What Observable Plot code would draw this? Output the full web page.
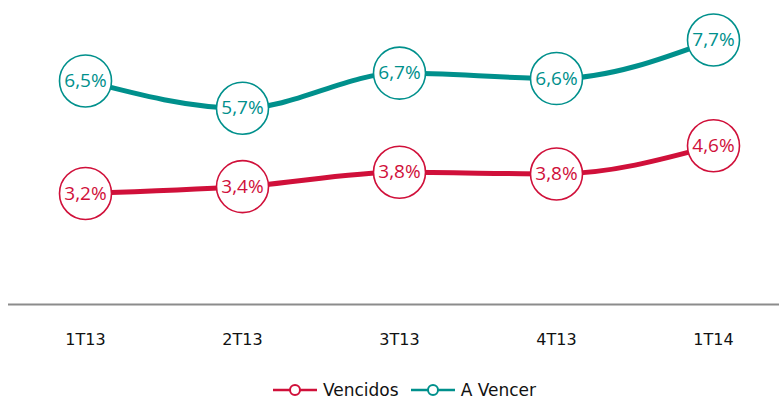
<!DOCTYPE html>
<html><head><meta charset="utf-8">
<script src="https://cdn.jsdelivr.net/npm/d3@7"></script>
<script src="https://cdn.jsdelivr.net/npm/@observablehq/plot@0.6"></script>
<style>
body{margin:0;background:#fff;}
#chart{width:779px;}
.legend{display:flex;justify-content:center;align-items:center;gap:12px;font-family:"DejaVu Sans",sans-serif;font-size:17px;color:#111;margin-top:20px;margin-left:30px;}
.item{display:flex;align-items:center;gap:6px;}
</style></head>
<body><div id="chart"></div>
<script>
const periods = ["1T13","2T13","3T13","4T13","1T14"];
const vencidos = [3.2, 3.4, 3.82, 3.77, 4.6];
const aVencer = [6.5, 5.7, 6.73, 6.57, 7.7];
const seriesNames = ["Vencidos","A Vencer"];
const colors = {"Vencidos":"#D0103A","A Vencer":"#00908C"};

const data = [];
periods.forEach((p,i)=>{
  data.push({period:p, series:"Vencidos", value:vencidos[i]});
  data.push({period:p, series:"A Vencer", value:aVencer[i]});
});
const fmt = v => v.toFixed(1).replace(".", ",") + "%";

const chart = Plot.plot({
  width: 779,
  height: 360,
  marginLeft: 8,
  marginRight: 0,
  marginTop: 0,
  marginBottom: 58,
  x: {type:"point", domain: periods, padding: 0.45, align: 0.54, label: null},
  y: {domain: [0, 8.86], axis: null},
  style: {fontFamily: "DejaVu Sans, sans-serif", fontSize: "16px", color: "#111"},
  marks: [
    Plot.ruleY([0], {stroke:"#8c8c8c", strokeWidth: 2, dy: 2}),
    Plot.axisX({tickSize: 0, tickPadding: 31, fontSize: 16, label: null}),
    Plot.line(data, {x:"period", y:"value", z:"series", stroke: d => colors[d.series], strokeWidth: 5, curve: "monotone-x"}),
    Plot.dot(data, {x:"period", y:"value", r: 26, fill:"white", stroke: d => colors[d.series], strokeWidth: 1.6}),
    Plot.text(data, {x:"period", y:"value", text: d => fmt(d.value), fill: d => colors[d.series], fontSize: 19, fontFamily: "Open Sans, sans-serif"})
  ]
});
document.getElementById("chart").append(chart);

const legend = document.createElement("div");
legend.className = "legend";
seriesNames.forEach(name=>{
  const item = document.createElement("div");
  item.className = "item";
  const c = colors[name];
  item.innerHTML = `<svg width="44" height="14"><line x1="0" y1="7" x2="44" y2="7" stroke="${c}" stroke-width="2.5"/><circle cx="22" cy="7" r="5" fill="white" stroke="${c}" stroke-width="2"/></svg><span>${name}</span>`;
  legend.append(item);
});
document.getElementById("chart").append(legend);
</script></body></html>
